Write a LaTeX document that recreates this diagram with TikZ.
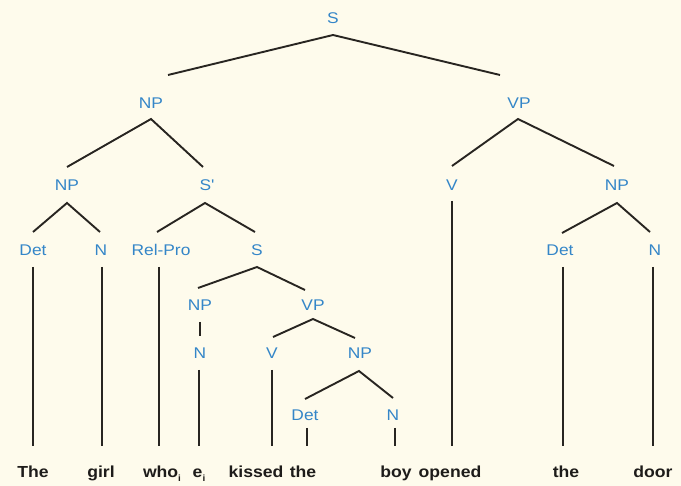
\documentclass[tikz,border=0pt]{standalone}
\usepackage{fontspec}
\usetikzlibrary{calc}
\newfontfamily\labfam[FakeStretch=1.12]{Liberation Sans}
\newfontfamily\wordfam[FakeStretch=1.1]{Liberation Sans}
\definecolor{bgcream}{RGB}{254,251,236}
\definecolor{labblue}{RGB}{52,134,200}
\definecolor{linegray}{RGB}{40,37,33}
\definecolor{wordblack}{RGB}{30,28,26}
\begin{document}
\begin{tikzpicture}[x=1pt,y=-1pt,
  lab/.style={text=labblue, font=\labfam\fontsize{15.5}{18}\selectfont, inner sep=0pt},
  word/.style={text=wordblack, font=\wordfam\bfseries\fontsize{16}{18}\selectfont, inner sep=0pt, anchor=base},
  br/.style={draw=linegray, line width=1.9pt}]
\fill[bgcream] (0,0) rectangle (681,486);
\useasboundingbox (0,0) rectangle (681,486);
% labels
\node[lab] (S0) at (333,18) {S};
\node[lab] (NP1) at (151,103) {NP};
\node[lab] (VP1) at (519,103) {VP};
\node[lab] (NP2) at (67,185) {NP};
\node[lab] (Sbar) at (207,185) {S'};
\node[lab] (V1) at (452,185) {V};
\node[lab] (NP3) at (617,185) {NP};
\node[lab] (Det1) at (33,250) {Det};
\node[lab] (N1) at (101,250) {N};
\node[lab] (RelPro) at (161,250) {Rel-Pro};
\node[lab] (S2) at (257,250) {S};
\node[lab] (Det3) at (560,250) {Det};
\node[lab] (N3) at (655,250) {N};
\node[lab] (NP4) at (200,305) {NP};
\node[lab] (VP2) at (313,305) {VP};
\node[lab] (N4) at (200,353) {N};
\node[lab] (V2) at (272,353) {V};
\node[lab] (NP5) at (360,353) {NP};
\node[lab] (Det5) at (305,415) {Det};
\node[lab] (N5) at (393,415) {N};
% words
\node[word] (wThe) at (33,478) {The};
\node[word] (wgirl) at (101,478) {girl};
\node[word] (wwho) at (162,478) {who\raisebox{-0.45ex}{\fontsize{9}{10}\selectfont i}};
\node[word] (wei) at (199,478) {e\raisebox{-0.45ex}{\fontsize{9}{10}\selectfont i}};
\node[word] (wkissed) at (256,478) {kissed};
\node[word] (wthe1) at (303,478) {the};
\node[word] (wboy) at (396,478) {boy};
\node[word] (wopened) at (450,478) {opened};
\node[word] (wthe2) at (566,478) {the};
\node[word] (wdoor) at (653,478) {door};
\coordinate (bot) at (0,446);
% branches
\draw[br] ($(NP1)+(17,-28)$) -- ($(S0)+(0,17)$) -- ($(VP1)+(-19,-28)$);
\draw[br] ($(NP2)+(0,-18)$) -- ($(NP1)+(0,16)$) -- ($(Sbar)+(-4,-18)$);
\draw[br] ($(V1)+(0,-19)$) -- ($(VP1)+(-1,16)$) -- ($(NP3)+(-3,-19)$);
\draw[br] ($(Det1)+(0,-18)$) -- ($(NP2)+(0,18)$) -- ($(N1)+(-1,-18)$);
\draw[br] ($(RelPro)+(-4,-18)$) -- ($(Sbar)+(-2,18)$) -- ($(S2)+(-2,-18)$);
\draw[br] ($(Det3)+(2,-17)$) -- ($(NP3)+(0,18)$) -- ($(N3)+(-5,-18)$);
\draw[br] ($(NP4)+(-2,-17)$) -- ($(S2)+(0,17)$) -- ($(VP2)+(-8,-15)$);
\draw[br] ($(V2)+(1,-16)$) -- ($(VP2)+(0,14)$) -- ($(NP5)+(-5,-15)$);
\draw[br] ($(Det5)+(0,-16)$) -- ($(NP5)+(-1,18)$) -- ($(N5)+(0,-17)$);
\draw[br] ($(NP4)+(0,17)$) -- ($(N4)+(0,-17)$);
% terminal lines
\draw[br] ($(Det1)+(0,17)$) -- (Det1 |- bot);
\draw[br] ($(N1)+(1,17)$) -- ($(N1 |- bot)+(1,0)$);
\draw[br] ($(RelPro)+(-2,17)$) -- ($(RelPro |- bot)+(-2,0)$);
\draw[br] ($(N4)+(-1,17)$) -- ($(N4 |- bot)+(-1,0)$);
\draw[br] ($(V2)+(0,17)$) -- (V2 |- bot);
\draw[br] ($(Det5)+(2,13)$) -- ($(Det5 |- bot)+(2,0)$);
\draw[br] ($(N5)+(2,13)$) -- ($(N5 |- bot)+(2,0)$);
\draw[br] ($(V1)+(0,16)$) -- (V1 |- bot);
\draw[br] ($(Det3)+(3,17)$) -- ($(Det3 |- bot)+(3,0)$);
\draw[br] ($(N3)+(-2,17)$) -- ($(N3 |- bot)+(-2,0)$);
\end{tikzpicture}
\end{document}
